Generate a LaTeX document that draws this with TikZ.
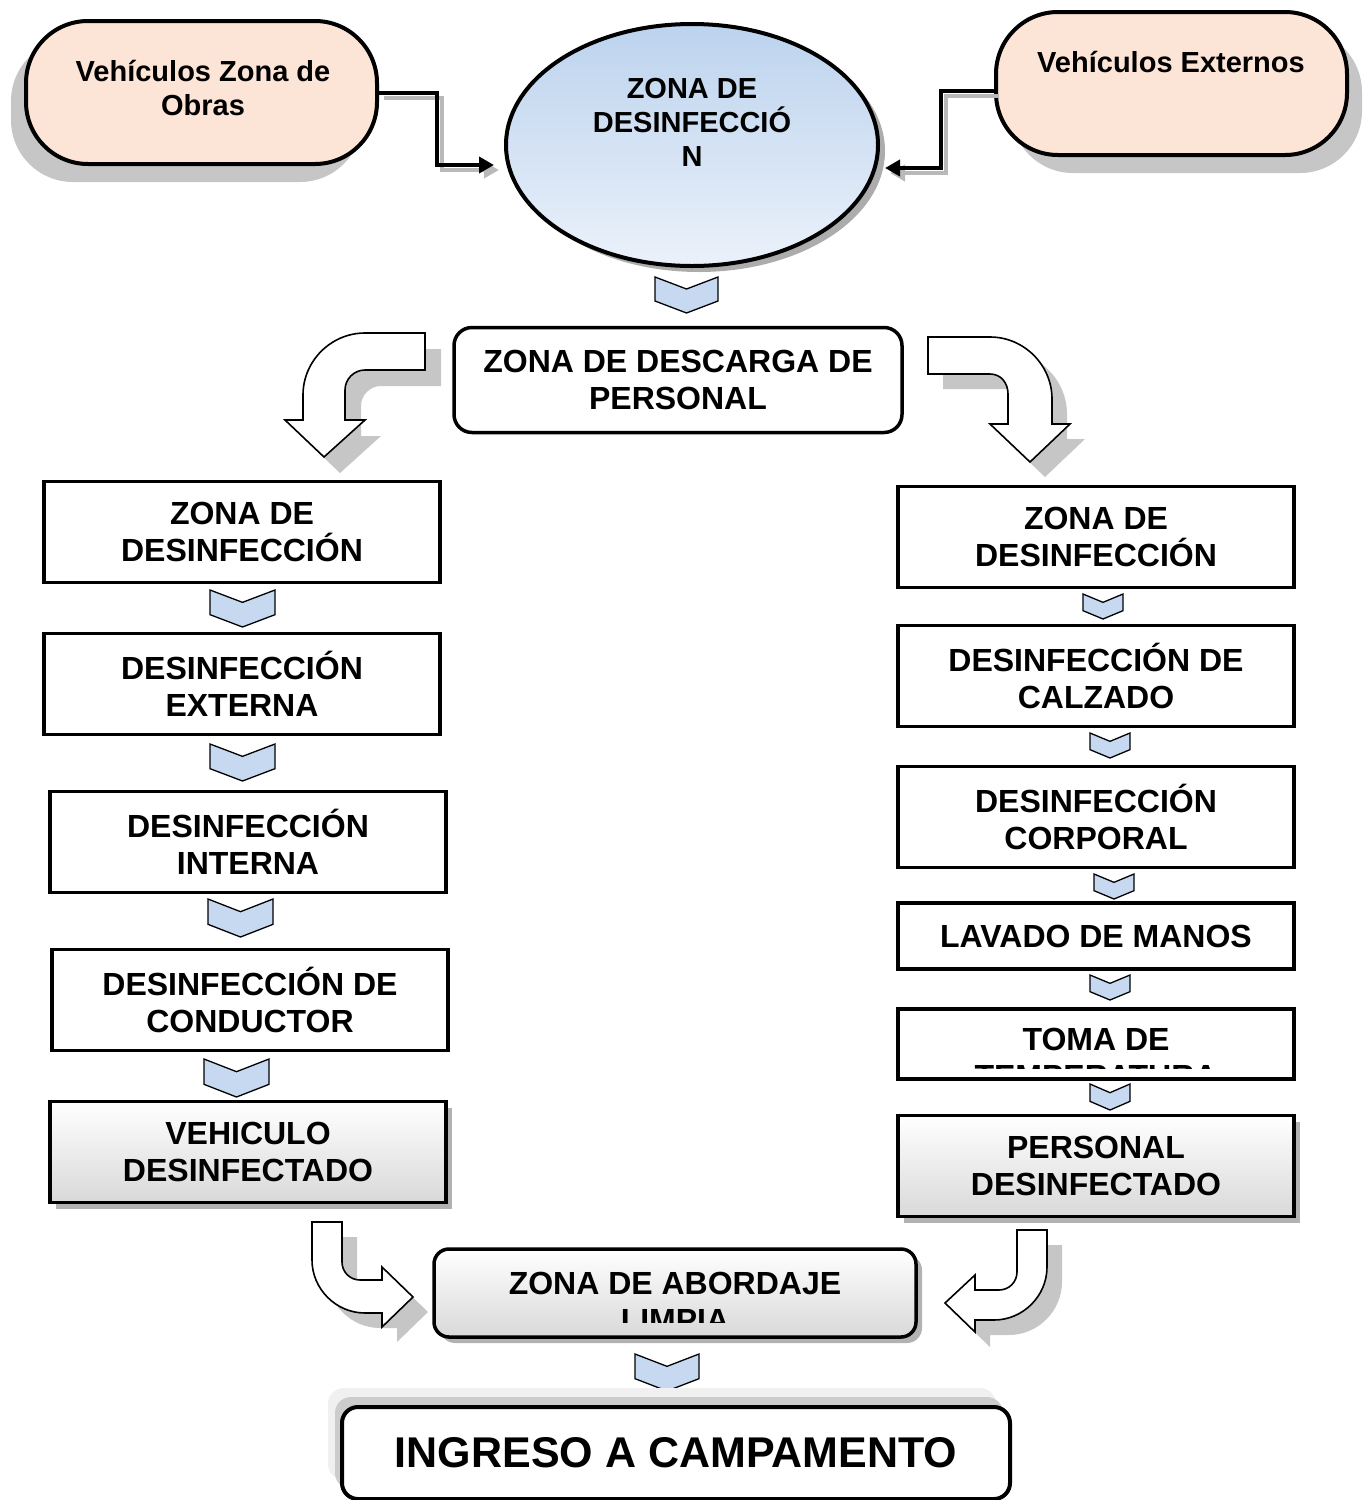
\documentclass[tikz,border=0pt]{standalone}
\usepackage{fontspec}
\setmainfont{Liberation Sans}
\usetikzlibrary{shapes.geometric,shadows,arrows.meta}
\definecolor{peach}{HTML}{FCE4D6}
\definecolor{chevblue}{HTML}{C6D9F1}
\definecolor{elltop}{HTML}{BCD3EE}
\definecolor{ellbot}{HTML}{EBF1FA}
\newcommand{\boxfont}{\bfseries\fontsize{32}{37}\selectfont}
\newcommand{\topfont}{\bfseries\fontsize{29}{34}\selectfont}
\newcommand{\ingfont}{\bfseries\fontsize{43}{48}\selectfont}
\newcommand{\mychev}[4]{%
  \pgfmathsetmacro\chvm{(#1+#2)/2}%
  \pgfmathsetmacro\chvd{(#4-#3)/3}%
  \draw[chev] (#1,#3) -- (\chvm,#3+\chvd) -- (#2,#3) -- (#2,#4-\chvd) -- (\chvm,#4) -- (#1,#4-\chvd) -- cycle;}
\begin{document}
\begin{tikzpicture}[x=1pt,y=-1pt,
  stepbox/.style={draw, line width=3.5pt, fill=white, minimum width=396pt, minimum height=101pt, align=center, font=\boxfont, inner sep=0pt},
  gradbox/.style={stepbox, top color=white, middle color=white, bottom color=gray!30,
     drop shadow={shadow xshift=6pt, shadow yshift=-6pt, fill=gray!60, opacity=1}},
  startbox/.style={draw, line width=4pt, fill=peach, rounded corners=62pt, minimum width=351pt, minimum height=143pt, align=center, font=\topfont},
  chev/.style={draw, line width=1.3pt, fill=chevblue, line join=miter},
  blockarrow/.style={draw, line width=1.6pt, fill=white, line join=miter},
  blockshadow/.style={fill=gray!45},
  conn/.style={line width=4pt, -{Triangle[length=15pt,width=16pt]}},
  connshadow/.style={conn, draw=gray!55, color=gray!55}
]
\useasboundingbox (0,0) rectangle (1370,1500);

% start boxes
\node[startbox, drop shadow={shadow xshift=-15pt, shadow yshift=-18pt, fill=gray!45, opacity=1}] (vzo) at (201.5,92.5) {};
\node[font=\topfont, align=center] (vzot) at (203,88) {Vehículos Zona de\\Obras};
\node[startbox, drop shadow={shadow xshift=15pt, shadow yshift=-18pt, fill=gray!45, opacity=1}] (vze) at (1171.5,83.5) {};
\node[font=\topfont] (vzet) at (1171,62) {Vehículos Externos};

% ellipse
\node[ellipse, draw, line width=4pt, minimum width=372pt, minimum height=242pt, top color=elltop, bottom color=ellbot,
  drop shadow={shadow xshift=7pt, shadow yshift=-6pt, fill=gray!65, opacity=1}] (zd) at (692,145) {};
\node[font=\topfont, align=center] (zdt) at (692,122) {ZONA DE\\DESINFECCIÓ\\N};

% elbow connectors
\coordinate (inL) at (494,165);
\coordinate (inR) at (885,168);
\draw[connshadow, transform canvas={shift={(5,5)}}] (vzo.east) -- ++(58,0) |- (inL);
\draw[conn] (vzo.east) -- ++(58,0) |- (inL);
\draw[connshadow, transform canvas={shift={(5,5)}}] ([yshift=-7pt]vze.west) -- ++(-53,0) |- (inR);
\draw[conn] ([yshift=-7pt]vze.west) -- ++(-53,0) |- (inR);

\mychev{655}{718}{277}{313}

% descarga
\node[stepbox, rounded corners=18pt, minimum width=448pt, minimum height=105pt] (zdp) at (678,380) {ZONA DE DESCARGA DE\\PERSONAL};

% top curved arrows
\begin{scope}[shift={(16,16)}]
\fill[blockshadow] (425,333) -- (365,333) .. controls (331,333) and (303,361) .. (303,395) -- (303,420) -- (285,420) -- (324,457) -- (365,420) -- (345,420) -- (345,390) .. controls (345,379) and (354,370) .. (365,370) -- (425,370) -- cycle;
\end{scope}
\draw[blockarrow] (425,333) -- (365,333) .. controls (331,333) and (303,361) .. (303,395) -- (303,420) -- (285,420) -- (324,457) -- (365,420) -- (345,420) -- (345,390) .. controls (345,379) and (354,370) .. (365,370) -- (425,370) -- cycle;

\begin{scope}[shift={(15,15)}]
\fill[blockshadow] (928,337) -- (990,337) .. controls (1024,337) and (1052,365) .. (1052,399) -- (1052,424) -- (1070,424) -- (1030,462) -- (990,424) -- (1008,424) -- (1008,394) .. controls (1008,383) and (1001,374) .. (990,374) -- (928,374) -- cycle;
\end{scope}
\draw[blockarrow] (928,337) -- (990,337) .. controls (1024,337) and (1052,365) .. (1052,399) -- (1052,424) -- (1070,424) -- (1030,462) -- (990,424) -- (1008,424) -- (1008,394) .. controls (1008,383) and (1001,374) .. (990,374) -- (928,374) -- cycle;

% left column
\node[stepbox] (L1) at (242,532) {ZONA DE\\DESINFECCIÓN};
\mychev{210}{275}{590}{627}
\node[stepbox] (L2) at (242,684) {DESINFECCIÓN\\EXTERNA};
\mychev{210}{275}{744}{781}
\node[stepbox] (L3) at (248,842) {DESINFECCIÓN\\INTERNA};
\mychev{208}{273}{899}{937}
\node[stepbox] (L4) at (250,1000) {DESINFECCIÓN DE\\CONDUCTOR};
\mychev{204}{269}{1059}{1097}
\node[gradbox] (L5) at (248,1152) {VEHICULO\\DESINFECTADO};

% right column
\node[stepbox] (R1) at (1096,537) {ZONA DE\\DESINFECCIÓN};
\mychev{1083}{1123}{594}{619}
\node[stepbox] (R2) at (1096,676) {DESINFECCIÓN DE\\CALZADO};
\mychev{1090}{1130}{733}{758}
\node[stepbox] (R3) at (1096,817) {DESINFECCIÓN\\CORPORAL};
\mychev{1094}{1134}{874}{899}
\node[stepbox, minimum height=66pt] (R4) at (1096,936) {LAVADO DE MANOS};
\mychev{1090}{1130}{975}{1000}
\node[stepbox, minimum height=70pt] (R5) at (1096,1044) {};
\begin{scope}
\clip (901,1012) rectangle (1291,1068);
\node[font=\boxfont, align=center] (R5t) at (1096,1057.5) {TOMA DE\\TEMPERATURA};
\end{scope}
\mychev{1090}{1130}{1084}{1110}
\node[gradbox] (R6) at (1096,1166) {PERSONAL\\DESINFECTADO};

% bottom curved arrows
\begin{scope}[shift={(15,15)}]
\fill[blockshadow] (312,1222) -- (342,1222) -- (342,1262) .. controls (342,1272) and (350,1280) .. (360,1280) -- (382,1280) -- (382,1267) -- (413,1297) -- (382,1327) -- (382,1313) -- (365,1313) .. controls (336,1313) and (312,1289) .. (312,1260) -- cycle;
\end{scope}
\draw[blockarrow] (312,1222) -- (342,1222) -- (342,1262) .. controls (342,1272) and (350,1280) .. (360,1280) -- (382,1280) -- (382,1267) -- (413,1297) -- (382,1327) -- (382,1313) -- (365,1313) .. controls (336,1313) and (312,1289) .. (312,1260) -- cycle;

\begin{scope}[shift={(15,15)}]
\fill[blockshadow] (1047,1230) -- (1017,1230) -- (1017,1272) .. controls (1017,1282) and (1009,1290) .. (999,1290) -- (975,1290) -- (975,1275) -- (945,1303) -- (975,1332) -- (975,1320) -- (994,1320) .. controls (1023,1320) and (1047,1296) .. (1047,1267) -- cycle;
\end{scope}
\draw[blockarrow] (1047,1230) -- (1017,1230) -- (1017,1272) .. controls (1017,1282) and (1009,1290) .. (999,1290) -- (975,1290) -- (975,1275) -- (945,1303) -- (975,1332) -- (975,1320) -- (994,1320) .. controls (1023,1320) and (1047,1296) .. (1047,1267) -- cycle;

% abordaje
\node[gradbox, rounded corners=15pt, minimum width=482pt, minimum height=88pt] (zab) at (675,1293) {};
\begin{scope}
\clip (440,1254) rectangle (910,1322);
\node[font=\boxfont, align=center] (zabt) at (675,1301.5) {ZONA DE ABORDAJE\\LIMPIA};
\end{scope}
\mychev{635}{699}{1354}{1391}

% ingreso
\node[draw, line width=4pt, fill=white, rounded corners=16pt, minimum width=668pt, minimum height=92pt, font=\ingfont,
  drop shadow={shadow xshift=-14pt, shadow yshift=19pt, fill=gray!12, opacity=1},
  drop shadow={shadow xshift=-7pt, shadow yshift=10pt, fill=gray!40, opacity=1}] (ing) at (676,1453) {INGRESO A CAMPAMENTO};
\end{tikzpicture}
\end{document}
